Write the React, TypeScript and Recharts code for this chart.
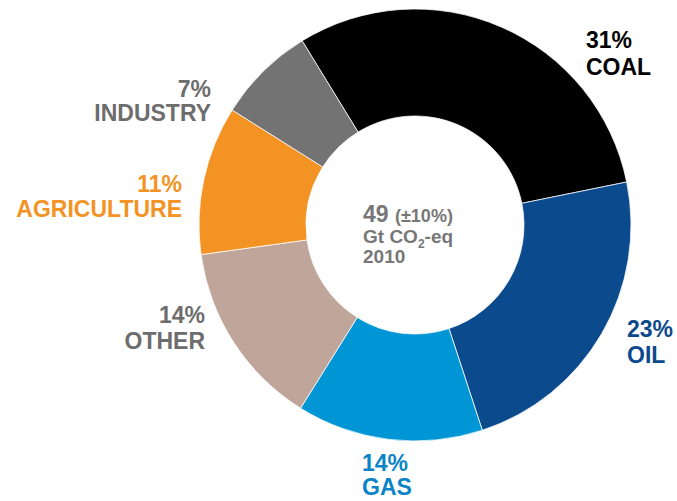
import { Cell, Label, Pie, PieChart } from "recharts";

const categories = ["COAL", "OIL", "GAS", "OTHER", "AGRICULTURE", "INDUSTRY"];
// shares; labels show them rounded
const shares = [30.5, 23.1, 13.9, 13.9, 11.1, 7.3];
const sliceColors = ["#000000", "#0b4a8c", "#0096d6", "#bfa59a", "#f39324", "#737373"];
const labelColors = ["#000000", "#0b4a8c", "#0a84c6", "#6d6d6d", "#f39324", "#6d6d6d"];

// label layout: offset from pie centre, first/second line baselines
const labelLayout = [
	{ dx: 171, dy1: -177, dy2: -150, anchor: "start" },
	{ dx: 212, dy1: 112, dy2: 138, anchor: "start" },
	{ dx: -53, dy1: 246, dy2: 270, anchor: "start" },
	{ dx: -210, dy1: 98, dy2: 124, anchor: "end" },
	{ dx: -233, dy1: -33, dy2: -8, anchor: "end" },
	{ dx: -204, dy1: -128, dy2: -104, anchor: "end" },
];

const data = categories.map((name, i) => ({ name, value: shares[i] }));

const FONT = "'Liberation Sans', Arial, Helvetica, sans-serif";

function renderLabel(props: any) {
	const { cx, cy, index } = props;
	const l = labelLayout[index];
	const x = cx + l.dx;
	return (
		<g>
			<text x={x} y={cy + l.dy1} textAnchor={l.anchor} fill={labelColors[index]} fontFamily={FONT} fontWeight="bold" fontSize={23}>
				{Math.round(shares[index])}%
			</text>
			<text x={x} y={cy + l.dy2} textAnchor={l.anchor} fill={labelColors[index]} fontFamily={FONT} fontWeight="bold" fontSize={23}>
				{categories[index]}
			</text>
		</g>
	);
}

function CenterText(props: any) {
	const vb = props.viewBox || {};
	const cx = vb.cx ?? 415;
	const cy = vb.cy ?? 225;
	const x = cx - 52;
	return (
		<g fill="#777777" fontFamily={FONT} fontWeight="bold">
			<text x={x} y={cy - 3}>
				<tspan fontSize={23}>49 </tspan>
				<tspan fontSize={18}>(±10%)</tspan>
			</text>
			<text x={x} y={cy + 18} fontSize={19}>
				<tspan>Gt CO</tspan>
				<tspan fontSize={12} dy={5}>2</tspan>
				<tspan dy={-5}>-eq</tspan>
			</text>
			<text x={x} y={cy + 38} fontSize={19}>
				2010
			</text>
		</g>
	);
}

export default function App() {
	return (
		<div style={{ width: 677, height: 501 }}>
			<style>{"body{margin:0}"}</style>
			<PieChart width={677} height={501} margin={{ top: 0, right: 0, bottom: 0, left: 0 }}>
				<Pie
					data={data}
					dataKey="value"
					nameKey="name"
					cx={415}
					cy={225}
					innerRadius={109}
					outerRadius={216}
					startAngle={121.5}
					endAngle={-238.5}
					stroke="#ffffff"
					strokeWidth={0.75}
					label={renderLabel}
					labelLine={false}
					isAnimationActive={false}
				>
					{data.map((d, i) => (
						<Cell key={d.name} fill={sliceColors[i]} />
					))}
					<Label position="center" content={<CenterText />} />
				</Pie>
			</PieChart>
		</div>
	);
}
